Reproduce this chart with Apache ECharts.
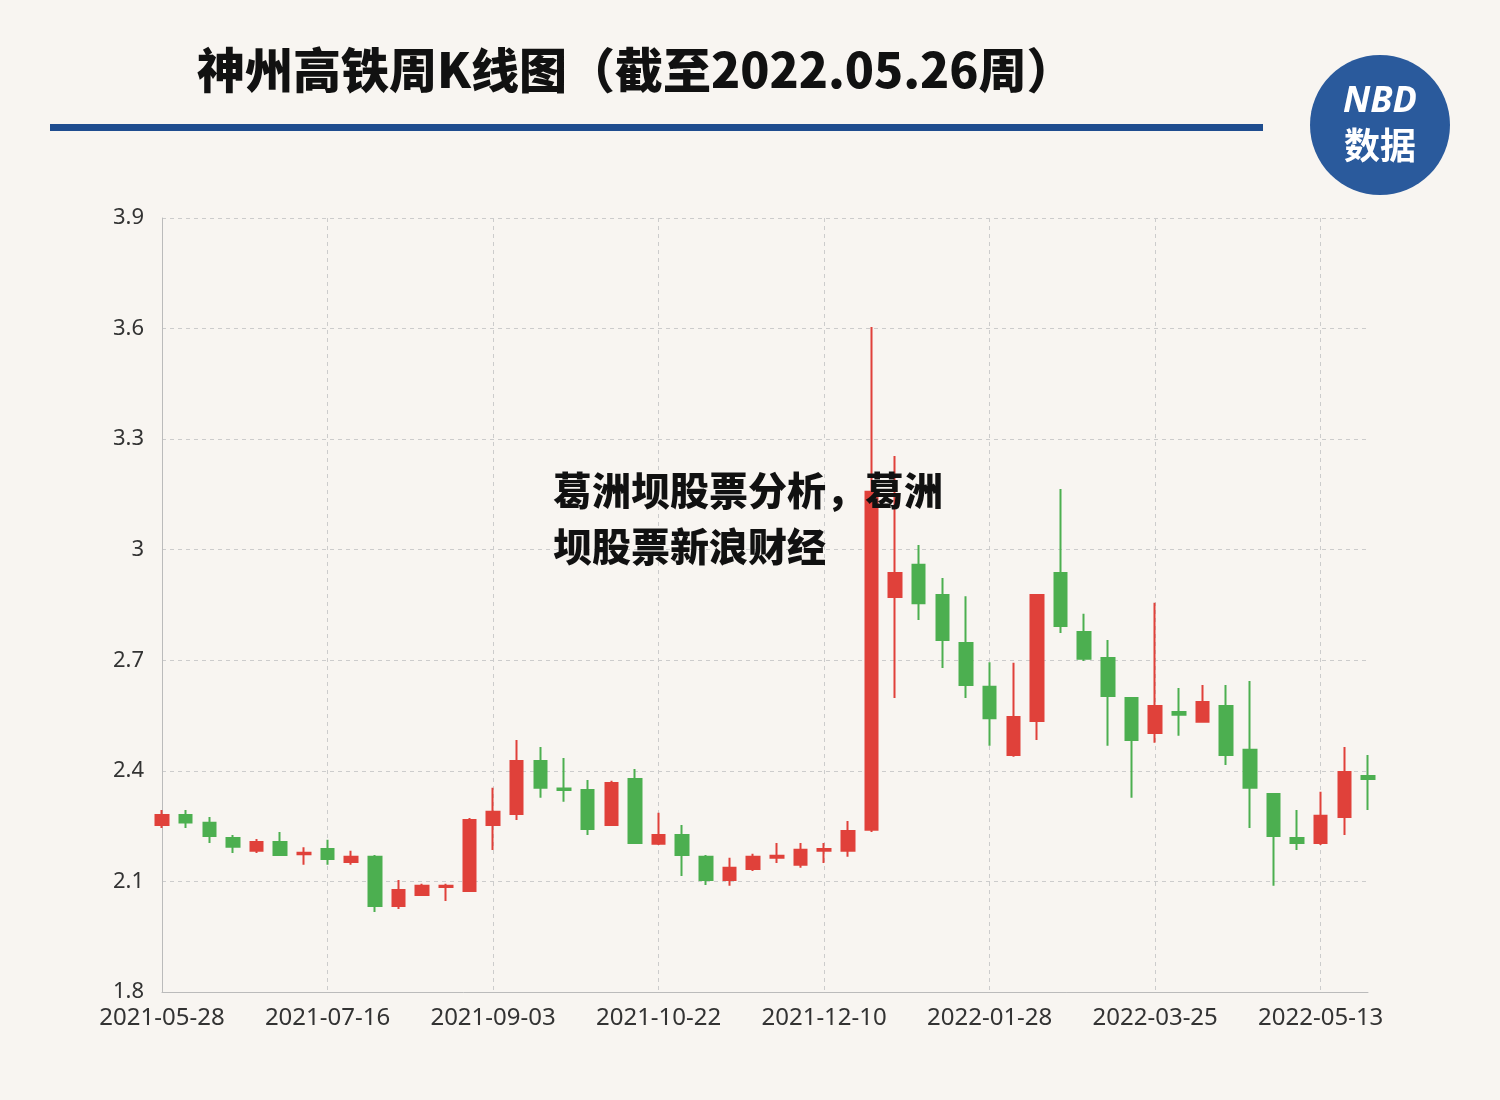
<!DOCTYPE html>
<html><head><meta charset="utf-8">
<script src="https://cdn.jsdelivr.net/npm/echarts@6/dist/echarts.min.js"></script>
<style>html,body{margin:0;padding:0;background:#f8f5f1}#c{width:1500px;height:1100px}</style>
</head><body><div id="c"></div>
<script>
const dates = ["2021-05-28","2021-06-04","2021-06-11","2021-06-18","2021-06-25","2021-07-02","2021-07-09","2021-07-16","2021-07-23","2021-07-30","2021-08-06","2021-08-13","2021-08-20","2021-08-27","2021-09-03","2021-09-10","2021-09-17","2021-09-24","2021-09-30","2021-10-08","2021-10-15","2021-10-22","2021-10-29","2021-11-05","2021-11-12","2021-11-19","2021-11-26","2021-12-03","2021-12-10","2021-12-17","2021-12-24","2021-12-31","2022-01-07","2022-01-14","2022-01-21","2022-01-28","2022-02-11","2022-02-18","2022-02-25","2022-03-04","2022-03-11","2022-03-18","2022-03-25","2022-04-01","2022-04-08","2022-04-15","2022-04-22","2022-04-29","2022-05-06","2022-05-13","2022-05-20","2022-05-26"];
const opens  = [2.253,2.280,2.259,2.218,2.183,2.207,2.174,2.188,2.153,2.167,2.033,2.063,2.085,2.074,2.253,2.283,2.427,2.352,2.348,2.253,2.378,2.202,2.226,2.167,2.104,2.134,2.164,2.145,2.183,2.183,2.240,2.872,2.959,2.877,2.747,2.628,2.443,2.535,2.937,2.777,2.706,2.598,2.503,2.560,2.533,2.576,2.457,2.337,2.218,2.204,2.275,2.386];
const closes = [2.280,2.260,2.223,2.194,2.207,2.172,2.178,2.161,2.167,2.033,2.077,2.088,2.088,2.267,2.289,2.427,2.354,2.348,2.242,2.367,2.204,2.226,2.172,2.104,2.137,2.167,2.170,2.186,2.188,2.237,3.157,2.937,2.855,2.755,2.633,2.543,2.546,2.877,2.793,2.704,2.603,2.484,2.576,2.552,2.587,2.443,2.354,2.223,2.204,2.278,2.397,2.378];
const lows   = [2.245,2.245,2.204,2.177,2.177,2.172,2.145,2.145,2.145,2.017,2.025,2.063,2.047,2.074,2.185,2.267,2.327,2.316,2.226,2.251,2.204,2.199,2.115,2.090,2.088,2.128,2.150,2.137,2.150,2.167,2.234,2.598,2.809,2.679,2.598,2.468,2.438,2.484,2.774,2.698,2.468,2.327,2.476,2.495,2.533,2.416,2.245,2.088,2.185,2.199,2.226,2.294];
const highs  = [2.294,2.294,2.275,2.226,2.215,2.234,2.193,2.213,2.183,2.172,2.104,2.094,2.094,2.272,2.354,2.484,2.465,2.435,2.375,2.373,2.405,2.286,2.253,2.172,2.164,2.175,2.204,2.204,2.204,2.264,3.604,3.254,3.013,2.923,2.874,2.695,2.693,2.877,3.165,2.826,2.755,2.600,2.856,2.625,2.633,2.633,2.644,2.338,2.294,2.343,2.465,2.443];
const ohlc = dates.map((d,i)=>[opens[i],closes[i],lows[i],highs[i]]);
const chart = echarts.init(document.getElementById('c'));
chart.setOption({
  backgroundColor:'#f8f5f1',
  animation:false,
  grid:{left:162,right:132,top:218,bottom:108},
  xAxis:{type:'category',data:dates,boundaryGap:false,
    axisLine:{lineStyle:{color:'#bbb'}},axisTick:{show:false},
    axisLabel:{interval:6,color:'#333',fontSize:24,margin:14,fontFamily:'Noto Sans'},
    splitLine:{show:true,interval:6,lineStyle:{type:[4,4],color:'#ccc'}}},
  yAxis:{type:'value',min:1.8,max:3.9,interval:0.3,
    axisLine:{show:true,lineStyle:{color:'#bbb'}},axisTick:{show:false},
    axisLabel:{color:'#333',fontSize:22,margin:18,fontFamily:'Noto Sans'},
    splitLine:{lineStyle:{type:[4,4],color:'#ccc'}}},
  series:[{type:'candlestick',data:ohlc,clip:false,barWidth:13,
    itemStyle:{color:'#e0413a',color0:'#4caf50',borderColor:'#e0413a',borderColor0:'#4caf50',borderWidth:2}}],
  graphic:[
    {type:'text',left:197,top:46,style:{text:'神州高铁周K线图（截至2022.05.26周）',font:'900 48px "Noto Sans CJK SC"',fill:'#111'}},
    {type:'rect',shape:{x:50,y:124,width:1213,height:7},style:{fill:'#1f4d8f'}},
    {type:'circle',shape:{cx:1380,cy:125,r:70},style:{fill:'#2a5a9c'}},
    {type:'text',x:1380,y:102,style:{text:'NBD',font:'bold italic 36px "Noto Sans"',fill:'#fff',align:'center',verticalAlign:'middle'}},
    {type:'text',x:1380,y:145,style:{text:'数据',font:'bold 36px "Noto Sans CJK SC"',fill:'#fff',align:'center',verticalAlign:'middle'}},
    {type:'text',left:553,top:462,z:100,style:{text:'葛洲坝股票分析，葛洲\n坝股票新浪财经',font:'900 39px "Noto Sans CJK SC"',lineHeight:56,fill:'#111'}}
  ]
});
</script></body></html>
